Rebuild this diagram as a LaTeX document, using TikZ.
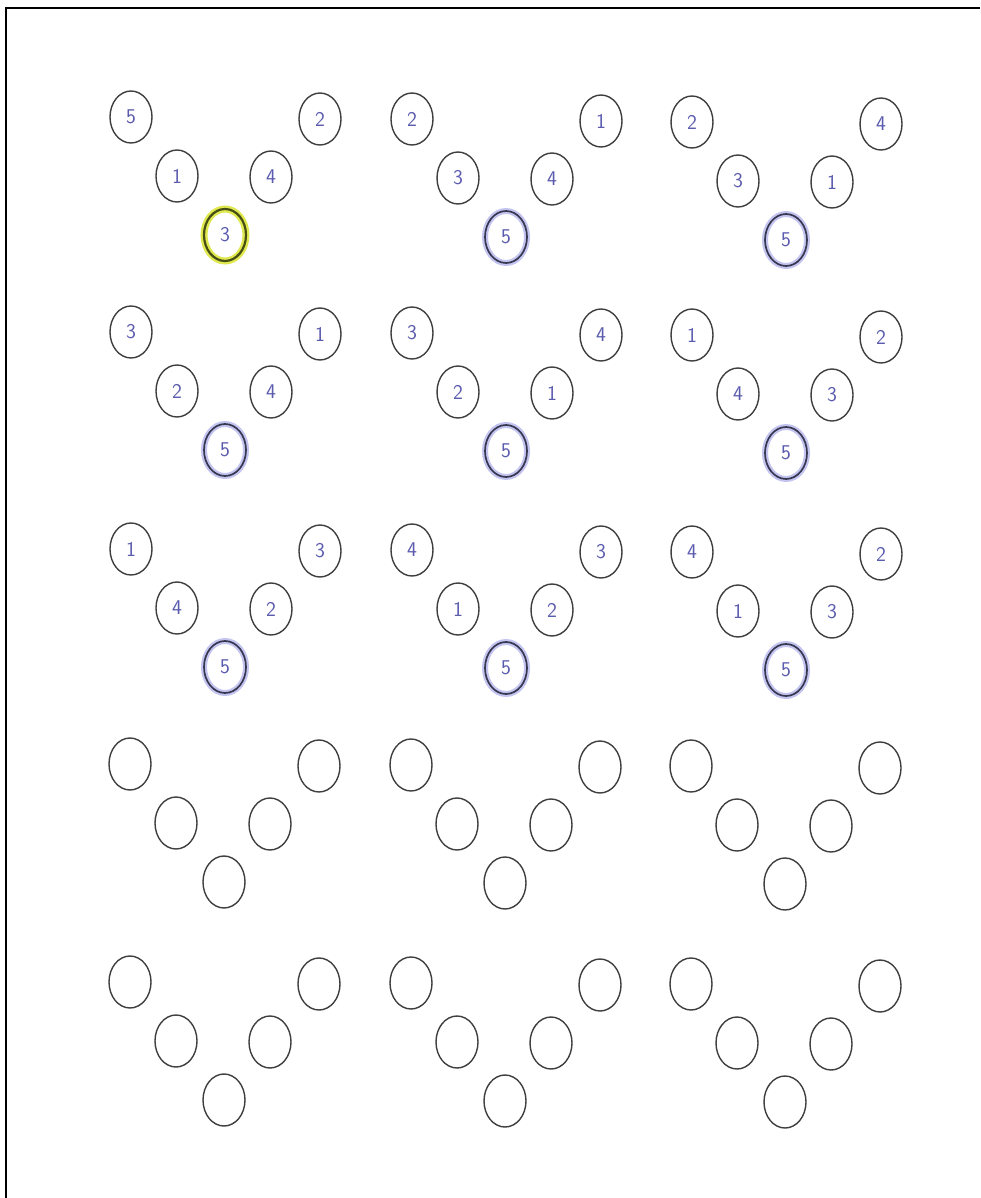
\documentclass[tikz,border=0pt]{standalone}
\usetikzlibrary{shapes.geometric}
\definecolor{ink}{RGB}{92,92,175}
\definecolor{rim}{RGB}{62,62,62}
\definecolor{brim}{RGB}{55,55,80}
\definecolor{bglow}{RGB}{196,196,240}
\definecolor{yglow}{RGB}{224,232,80}
\definecolor{yrim}{RGB}{70,78,20}
\tikzset{
  ball/.style={ellipse, draw=rim, line width=1.4pt, minimum width=42pt, minimum height=52pt,
    inner sep=0pt, text=ink, font=\sffamily\fontsize{21}{21}\selectfont},
  blueball/.style={ball, draw=brim, line width=1.7pt, preaction={draw=bglow, line width=6pt}},
  yellowball/.style={ball, draw=yrim, line width=2.2pt, preaction={draw=yglow, line width=7pt}},
  frameline/.style={line width=2.2pt, draw=black}
}
\newcommand{\vgrp}[9]{%
  \node[ball] (#1tl) at (#2pt,-#3pt) {#4};
  \node[ball] (#1tr) at (#2pt+189pt,-#3pt-2pt) {#5};
  \node[ball] (#1ml) at (#2pt+46pt,-#3pt-59pt) {#6};
  \node[ball] (#1mr) at (#2pt+140pt,-#3pt-60pt) {#7};
  \node[#9] (#1b) at (#2pt+94pt,-#3pt-118pt) {#8};
}
\begin{document}
\begin{tikzpicture}
\useasboundingbox (0,0) rectangle (980pt,-1198pt);
\fill[white] (0,0) rectangle (980pt,-1198pt);
\coordinate (ftl) at (6pt,-8pt);
\coordinate (ftr) at (980pt,-8pt);
\coordinate (fbl) at (6pt,-1198pt);
\draw[frameline] (ftr) -- (ftl) -- (fbl);
% row 1
\vgrp{a}{131}{117}{5}{2}{1}{4}{3}{yellowball}
\vgrp{b}{412}{119}{2}{1}{3}{4}{5}{blueball}
\vgrp{c}{692}{122}{2}{4}{3}{1}{5}{blueball}
% row 2
\vgrp{d}{131}{332}{3}{1}{2}{4}{5}{blueball}
\vgrp{e}{412}{333}{3}{4}{2}{1}{5}{blueball}
\vgrp{f}{692}{335}{1}{2}{4}{3}{5}{blueball}
% row 3
\vgrp{g}{131}{549}{1}{3}{4}{2}{5}{blueball}
\vgrp{h}{412}{550}{4}{3}{1}{2}{5}{blueball}
\vgrp{i}{692}{552}{4}{2}{1}{3}{5}{blueball}
% row 4
\vgrp{j}{130}{764}{}{}{}{}{}{ball}
\vgrp{k}{411}{765}{}{}{}{}{}{ball}
\vgrp{l}{691}{766}{}{}{}{}{}{ball}
% row 5
\vgrp{m}{130}{982}{}{}{}{}{}{ball}
\vgrp{n}{411}{983}{}{}{}{}{}{ball}
\vgrp{o}{691}{984}{}{}{}{}{}{ball}
\end{tikzpicture}
\end{document}
